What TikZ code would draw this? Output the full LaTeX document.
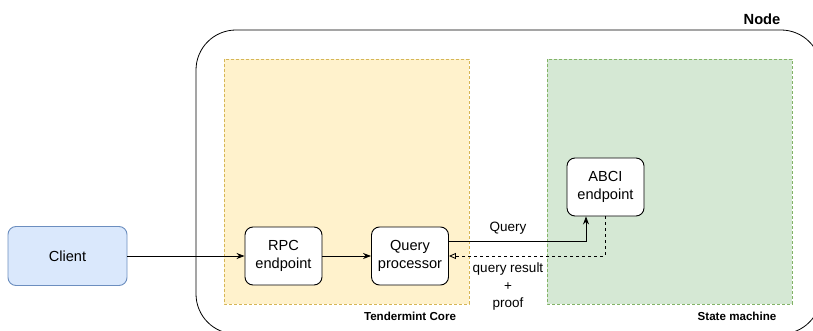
\documentclass[tikz,border=0pt]{standalone}
\usepackage{fontspec}
\setmainfont{Liberation Sans}
\usetikzlibrary{arrows.meta}

\definecolor{clientfill}{HTML}{DAE8FC}
\definecolor{clientdraw}{HTML}{6C8EBF}
\definecolor{corefill}{HTML}{FFF2CC}
\definecolor{coredraw}{HTML}{D6B656}
\definecolor{statefill}{HTML}{D5E8D4}
\definecolor{statedraw}{HTML}{82B366}

\tikzset{
    block/.style={draw, fill=white, rounded corners=8pt, line width=0.9pt,
        minimum width=77pt, minimum height=58pt, align=center,
        font=\fontsize{14.6}{17.5}\selectfont},
    group/.style={dashed, dash pattern=on 3pt off 2pt, line width=0.8pt},
    grouplabel/.style={font=\fontsize{11.6}{14}\selectfont\bfseries},
    edgelabel/.style={align=center, font=\fontsize{13.5}{17.5}\selectfont},
    arr/.style={-{Stealth[length=8pt,width=6pt]}, line width=0.8pt},
    ret/.style={-{Triangle[open,length=7pt,width=6pt]}, dashed, dash pattern=on 3pt off 3pt, line width=0.8pt}
}

\begin{document}
\begin{tikzpicture}[x=1pt, y=-1pt]
            \useasboundingbox (0, 0) rectangle (813, 331);

            % node frame
            \draw[line width=0.8pt, rounded corners=40pt] (196, 30) rectangle (821, 334);
            \node[font=\fontsize{14.7}{17}\selectfont\bfseries] (nodetitle) at (762, 19) {Node};

            % groups
            \draw[group, fill=corefill, draw=coredraw] (224, 59) rectangle (469, 304);
            \draw[group, fill=statefill, draw=statedraw] (547, 59) rectangle (792, 304);
            \node[grouplabel] (corelabel) at (410, 316) {Tendermint Core};
            \node[grouplabel] (statelabel) at (737, 316) {State machine};

            % blocks
            \node[block, fill=clientfill, draw=clientdraw, minimum width=119pt, minimum height=59pt] (client) at (67.5, 256) {Client};
            \node[block] (rpc) at (283.5, 256) {RPC\\endpoint};
            \node[block] (qp) at (410, 256) {Query\\processor};
            \node[block] (abci) at (605.5, 187) {ABCI\\endpoint};

            % connectors
            \draw[arr] (client) -- (rpc);
            \draw[arr] (rpc) -- (qp);
            \draw[arr] ([yshift=15pt]qp.east) -| ([xshift=-19.5pt]abci.south);
            \draw[ret] (abci.south) |- (qp.east);

            \node[edgelabel] (querylabel) at (508, 228) {Query};
            \node[edgelabel] (resultlabel) at (508, 287) {query result\\+\\proof};
        \end{tikzpicture}
\end{document}
